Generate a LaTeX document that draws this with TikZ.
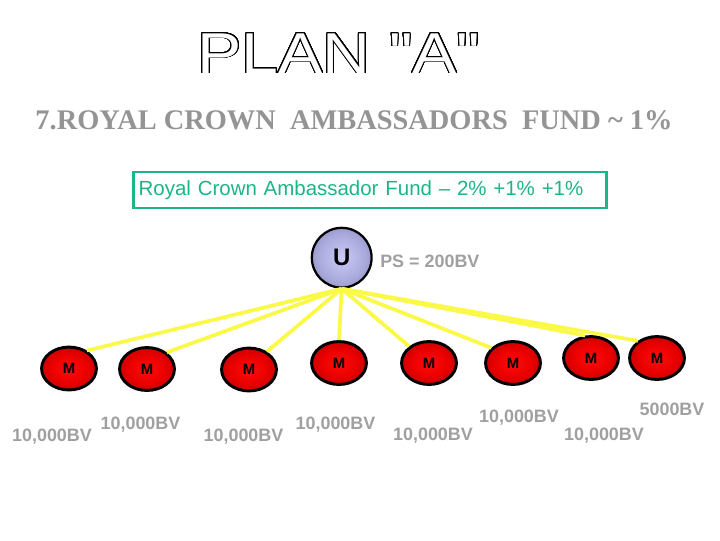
\documentclass[tikz,border=0pt]{standalone}
\usepackage{fontspec}
\setmainfont{Liberation Serif}
\newfontfamily\arial{Liberation Sans}
\usepackage{graphicx}
\usepackage{contour}
\contourlength{0.6pt}
\contournumber{32}
\usetikzlibrary{positioning, shapes}
\definecolor{fundgreen}{RGB}{30,180,135}
\definecolor{bvgray}{RGB}{160,160,160}
\definecolor{titlegray}{RGB}{148,148,148}
\definecolor{linkyellow}{RGB}{250,250,70}
\pgfdeclareradialshading{memberball}{\pgfpoint{0bp}{0bp}}{rgb(0bp)=(1,0.05,0.05); rgb(16bp)=(0.92,0,0); rgb(34bp)=(0.7,0,0); rgb(50bp)=(0.42,0,0)}
\pgfdeclareradialshading{uplineball}{\pgfpoint{0bp}{0bp}}{rgb(0bp)=(0.8,0.8,0.97); rgb(20bp)=(0.66,0.66,0.86); rgb(50bp)=(0.34,0.34,0.52)}
\tikzset{Member/.style={draw, ellipse, line width=2.1pt, shading=memberball, minimum width=39pt, minimum height=30.5pt, inner sep=0pt, font=\arial\bfseries\fontsize{10.6pt}{12pt}\selectfont}}
\tikzset{Upline/.style={draw, circle, line width=1.6pt, shading=uplineball, minimum size=42.5pt, inner sep=0pt, font=\arial\bfseries\fontsize{17pt}{19pt}\selectfont}}
\tikzset{Link/.style={draw=linkyellow, line width=2.6pt}}
\tikzset{BV/.style={text=bvgray, anchor=base, inner sep=0pt, font=\arial\bfseries\fontsize{12.75pt}{14pt}\selectfont}}
\tikzset{Fund/.style={draw=fundgreen, line width=2pt, rectangle, minimum height=25.5pt, text width=329pt, inner xsep=3.5pt, align=left, text=fundgreen, font=\arial\fontsize{14.55pt}{16pt}\selectfont}}

\begin{document}
\begin{tikzpicture}[x=0.025cm, y=-0.025cm]
\fill[white] (0,0) rectangle (720,540);
\useasboundingbox (0,0) rectangle (720,540);

\node[anchor=base, inner sep=0pt, font=\arial\fontsize{41pt}{44pt}\selectfont] (title) at (339,73) {\scalebox{1.15}[1]{\contour{black}{\color{white}PLAN "A"}}};
\node[anchor=base, inner sep=0pt, text=titlegray, font=\bfseries\fontsize{20.2pt}{24pt}\selectfont] (subtitle) at (354,129) {7.ROYAL CROWN\ \ AMBASSADORS\ \ FUND \textasciitilde\ 1\%};
\node[Fund] (fund) at (370,190) {Royal Crown Ambassador Fund \textendash\ 2\% +1\% +1\%};

\node[Upline] (u) at (341.7,257.7) {U};
\node[BV, anchor=base west] (ps) at (380,267) {PS = 200BV};

\node[Member] (m1) at (69,368.5) {M};
\node[Member] (m2) at (147,369) {M};
\node[Member] (m3) at (249,369.5) {M};
\node[Member] (m4) at (339,363) {M};
\node[Member] (m5) at (429,363) {M};
\node[Member] (m6) at (513,363) {M};
\node[Member] (m7) at (591,358) {M};
\node[Member] (m8) at (657,358) {M};

\draw[Link] (u.south) -- (m1.45);
\draw[Link] (u.south) -- (m2.40);
\draw[Link] (u.south) -- (m3.45);
\draw[Link] (u.south) -- (m4.north);
\draw[Link] (u.south) -- (m5.140);
\draw[Link] (u.south) -- (m6.145);
\draw[Link] (u.south) -- (m7.105);
\draw[Link] (u.south) -- (m8.138);

\node[BV] (bv1) at (52,441) {10,000BV};
\node[BV] (bv2) at (140.5,429) {10,000BV};
\node[BV] (bv3) at (243.5,441) {10,000BV};
\node[BV] (bv4) at (335.5,429) {10,000BV};
\node[BV] (bv5) at (433,440) {10,000BV};
\node[BV] (bv6) at (519,422) {10,000BV};
\node[BV] (bv7) at (672,415) {5000BV};
\node[BV] (bv8) at (604,440) {10,000BV};
\end{tikzpicture}
\end{document}
